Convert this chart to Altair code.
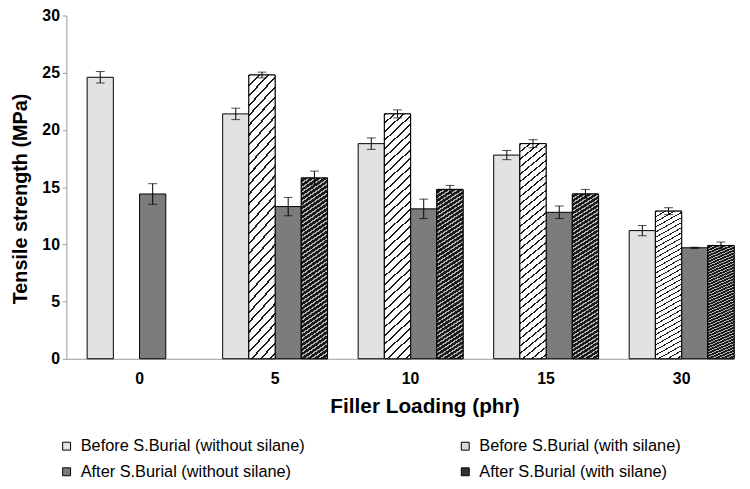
import altair as alt
import pandas as pd

loading = ["0", "5", "10", "15", "30"]
series = [
    "Before S.Burial (without silane)",
    "Before S.Burial (with silane)",
    "After S.Burial (without silane)",
    "After S.Burial (with silane)",
]
before_wo = [24.6, 21.4, 18.8, 17.8, 11.2]
before_wo_err = [0.5, 0.5, 0.5, 0.4, 0.45]
before_w = [None, 24.8, 21.4, 18.8, 12.9]
before_w_err = [None, 0.25, 0.35, 0.35, 0.3]
after_wo = [14.4, 13.3, 13.1, 12.8, 9.7]
after_wo_err = [0.9, 0.8, 0.85, 0.55, 0.05]
after_w = [None, 15.8, 14.8, 14.4, 9.9]
after_w_err = [None, 0.6, 0.35, 0.4, 0.3]

colors = ["#e2e2e2", "#d8d8d8", "#7c7c7c", "#333333"]

rows = []
for s, vals, errs in zip(series, [before_wo, before_w, after_wo, after_w],
                         [before_wo_err, before_w_err, after_wo_err, after_w_err]):
    for l, v, e in zip(loading, vals, errs):
        if v is None:
            continue
        rows.append({"loading": l, "series": s, "value": v, "lo": v - e, "hi": v + e})
df = pd.DataFrame(rows)

FONT = "Liberation Sans"


def stripes(n, bg, line, frac):
    stops = []
    for i in range(n):
        a = i / n
        b = (i + frac) / n
        c = (i + 1) / n
        stops += [alt.GradientStop(offset=a, color=line), alt.GradientStop(offset=b, color=line),
                  alt.GradientStop(offset=b, color=bg), alt.GradientStop(offset=c, color=bg)]
    return alt.LinearGradient(gradient="linear", x1=0, y1=0, x2=0.11, y2=1.1, stops=stops)


hatch = stripes(32, "#ffffff", "#1a1a1a", 0.22)
dots = stripes(44, "#1a1a1a", "#b5b5b5", 0.35)

x = alt.X("loading:N", sort=loading,
          scale=alt.Scale(paddingInner=0.226, paddingOuter=0.0766, align=1),
          axis=alt.Axis(title="Filler Loading (phr)", labelAngle=0, ticks=False,
                        labelPadding=12, titlePadding=9, titleX=362))
xo = alt.XOffset("series:N", sort=series, scale=alt.Scale(paddingInner=0, paddingOuter=0))
y = alt.Y("value:Q", scale=alt.Scale(domain=[0, 30]),
          axis=alt.Axis(title="Tensile strength (MPa)", values=[0, 5, 10, 15, 20, 25, 30],
                        grid=False, tickSize=4, labelPadding=3, titlePadding=12, titleY=185,
                        titleFontSize=20))

base = alt.Chart(df)

bars = base.mark_bar(stroke="black", strokeWidth=1).encode(
    x=x, xOffset=xo, y=y,
    color=alt.Color("series:N", sort=series,
                    scale=alt.Scale(domain=series, range=colors),
                    legend=alt.Legend(title=None, orient="none", legendX=-8, legendY=427,
                                      direction="horizontal",
                                      columns=2, columnPadding=153, rowPadding=9,
                                      symbolType="square", symbolSize=64, symbolOffset=0,
                                      labelOffset=6,
                                      symbolStrokeColor="black", symbolStrokeWidth=1,
                                      labelFontSize=16.5, labelFont=FONT, labelColor="black",
                                      labelLimit=400, padding=0)),
)

over1 = base.transform_filter(alt.datum.series == series[1]).mark_bar(
    stroke="black", strokeWidth=1, fill=hatch).encode(x=x, xOffset=xo, y="value:Q")
over2 = base.transform_filter(alt.datum.series == series[3]).mark_bar(
    stroke="black", strokeWidth=1, fill=dots).encode(x=x, xOffset=xo, y="value:Q")

rules = base.mark_rule(color="black", strokeWidth=1).encode(
    x=x, xOffset=xo, y="lo:Q", y2="hi:Q")
cap_lo = base.mark_tick(color="black", size=9, thickness=1).encode(
    x=x, xOffset=xo, y="lo:Q")
cap_hi = base.mark_tick(color="black", size=9, thickness=1).encode(
    x=x, xOffset=xo, y="hi:Q")

chart = alt.layer(bars, over1, over2, rules, cap_lo, cap_hi).properties(
    width=675, height=347,
    autosize=alt.AutoSizeParams(type="none"),
    padding={"left": 59, "top": 5, "right": 8, "bottom": 121},
).configure_view(stroke=None).configure_axis(
    labelFont=FONT, titleFont=FONT, labelFontSize=16, labelFontWeight="bold",
    labelColor="black", titleFontSize=21, titleFontWeight="bold", titleColor="black",
    domainColor="#999999", tickColor="#999999",
)

chart.save("out.html", embed_options={"renderer": "svg", "actions": False})
